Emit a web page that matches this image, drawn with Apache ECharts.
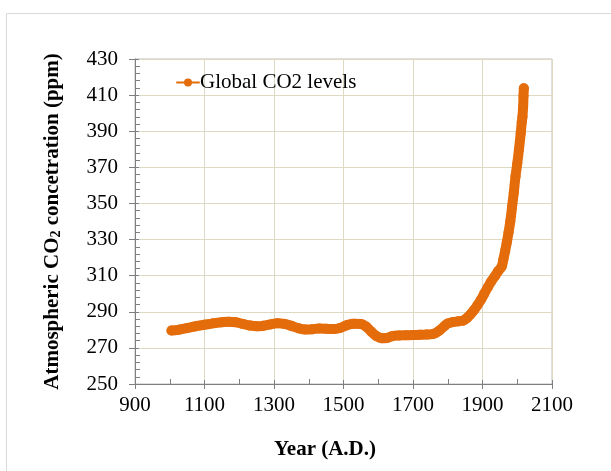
<!DOCTYPE html>
<html>
<head>
<meta charset="utf-8">
<script src="https://cdn.jsdelivr.net/npm/echarts@6/dist/echarts.min.js"></script>
<style>
html,body{margin:0;padding:0;background:#fff;}
#chart{width:611px;height:471px;}
</style>
</head>
<body>
<div id="chart"></div>
<script>
const years = [1005,1025,1050,1075,1100,1125,1150,1170,1190,1210,1230,1250,1270,1290,1310,1330,1350,1370,1390,1410,1430,1450,1470,1490,1510,1530,1550,1565,1580,1595,1610,1625,1640,1660,1680,1700,1720,1740,1760,1775,1790,1800,1815,1830,1845,1855,1865,1875,1885,1895,1905,1915,1925,1935,1945,1955,1960,1965,1970,1975,1980,1985,1990,1995,2000,2005,2010,2013,2015,2017,2018,2019];
const co2 = [279.6,280.0,281.0,282.0,282.8,283.6,284.2,284.5,284.2,283.3,282.4,282.0,282.3,283.0,283.6,283.3,282.2,280.9,280.2,280.3,280.7,280.6,280.4,281.0,282.6,283.4,283.2,281.8,279.0,276.5,275.4,275.5,276.5,276.9,277.0,277.1,277.3,277.4,277.8,279.5,282.0,283.5,284.3,284.7,285.2,286.5,288.5,290.8,293.5,296.5,300.0,303.5,306.8,309.5,312.5,315.0,319.0,323.5,328.5,334.0,340.0,348.0,356.0,365.0,372.0,380.0,389.0,395.0,398.0,404.0,409.5,413.8];
const seriesName = 'Global CO2 levels';
const xTitle = 'Year (A.D.)';
const yTitle = 'Atmospheric CO{sub|2} concetration (ppm)';

const serif = "'Liberation Serif','Times New Roman',serif";
const orange = '#E46C0A';
const chart = echarts.init(document.getElementById('chart'));
const pts = years.map((y,i)=>[y, co2[i]]);
const plain = v => String(v);

chart.setOption({
  animation:false,
  backgroundColor:'#fff',
  graphic:[{
    type:'rect', silent:true, z:-10,
    shape:{x:6.5,y:13.5,width:620,height:480},
    style:{fill:'none',stroke:'#d9d9d9',lineWidth:1}
  }],
  grid:{left:135,right:59,top:59,bottom:87,show:true,borderColor:'#bfbfbf',borderWidth:1,backgroundColor:'transparent'},
  legend:{
    left:176, top:72, padding:0,
    itemWidth:22, itemHeight:10, itemGap:0,
    lineStyle:{width:2},
    textStyle:{fontFamily:serif,fontSize:21,color:'#000',padding:[0,0,0,-4]},
    data:[seriesName]
  },
  xAxis:[{
    type:'value', min:900, max:2100, interval:200,
    name:xTitle, nameLocation:'middle', nameGap:55,
    nameTextStyle:{fontFamily:serif,fontSize:21,fontWeight:'bold',color:'#000',padding:[0,37,0,0]},
    axisLine:{show:true,onZero:false,lineStyle:{color:'#7f7f7f',width:1}},
    axisTick:{show:true,inside:true,length:4,lineStyle:{color:'#7f7f7f'}},
    minorTick:{show:true,splitNumber:2,length:5,lineStyle:{color:'#7f7f7f',width:1}},
    axisLabel:{fontFamily:serif,fontSize:21,color:'#000',margin:11,formatter:plain},
    splitLine:{show:true,lineStyle:{color:'#DDD9C3',width:1}}
  },{
    type:'value', min:900, max:2100, interval:200, position:'bottom',
    axisLine:{show:false}, axisLabel:{show:false}, splitLine:{show:false},
    axisTick:{show:true,inside:false,length:5,lineStyle:{color:'#7f7f7f'}}
  }],
  yAxis:[{
    type:'value', min:250, max:430, interval:20,
    name:yTitle, nameLocation:'middle', nameGap:72,
    nameTextStyle:{fontFamily:serif,fontSize:21,fontWeight:'bold',color:'#000',
      rich:{sub:{fontFamily:serif,fontSize:14,fontWeight:'bold',color:'#000',verticalAlign:'bottom',padding:[6,0,0,0]}}},
    axisLine:{show:true,lineStyle:{color:'#7f7f7f',width:1}},
    axisTick:{show:true,inside:true,length:4,lineStyle:{color:'#7f7f7f'}},
    minorTick:{show:true,splitNumber:5,length:5,lineStyle:{color:'#7f7f7f',width:1}},
    axisLabel:{fontFamily:serif,fontSize:21,color:'#000',margin:17,formatter:plain},
    splitLine:{show:true,lineStyle:{color:'#DDD9C3',width:1}}
  },{
    type:'value', min:250, max:430, interval:20, position:'left',
    axisLine:{show:false}, axisLabel:{show:false}, splitLine:{show:false},
    axisTick:{show:true,inside:false,length:6,lineStyle:{color:'#7f7f7f'}}
  }],
  series:[{
    name:seriesName, type:'line', data:pts, smooth:0.4,
    symbol:'circle', symbolSize:10, showSymbol:true,
    itemStyle:{color:orange},
    lineStyle:{color:orange,width:10,cap:'round',join:'round'}
  }]
});
</script>
</body>
</html>
